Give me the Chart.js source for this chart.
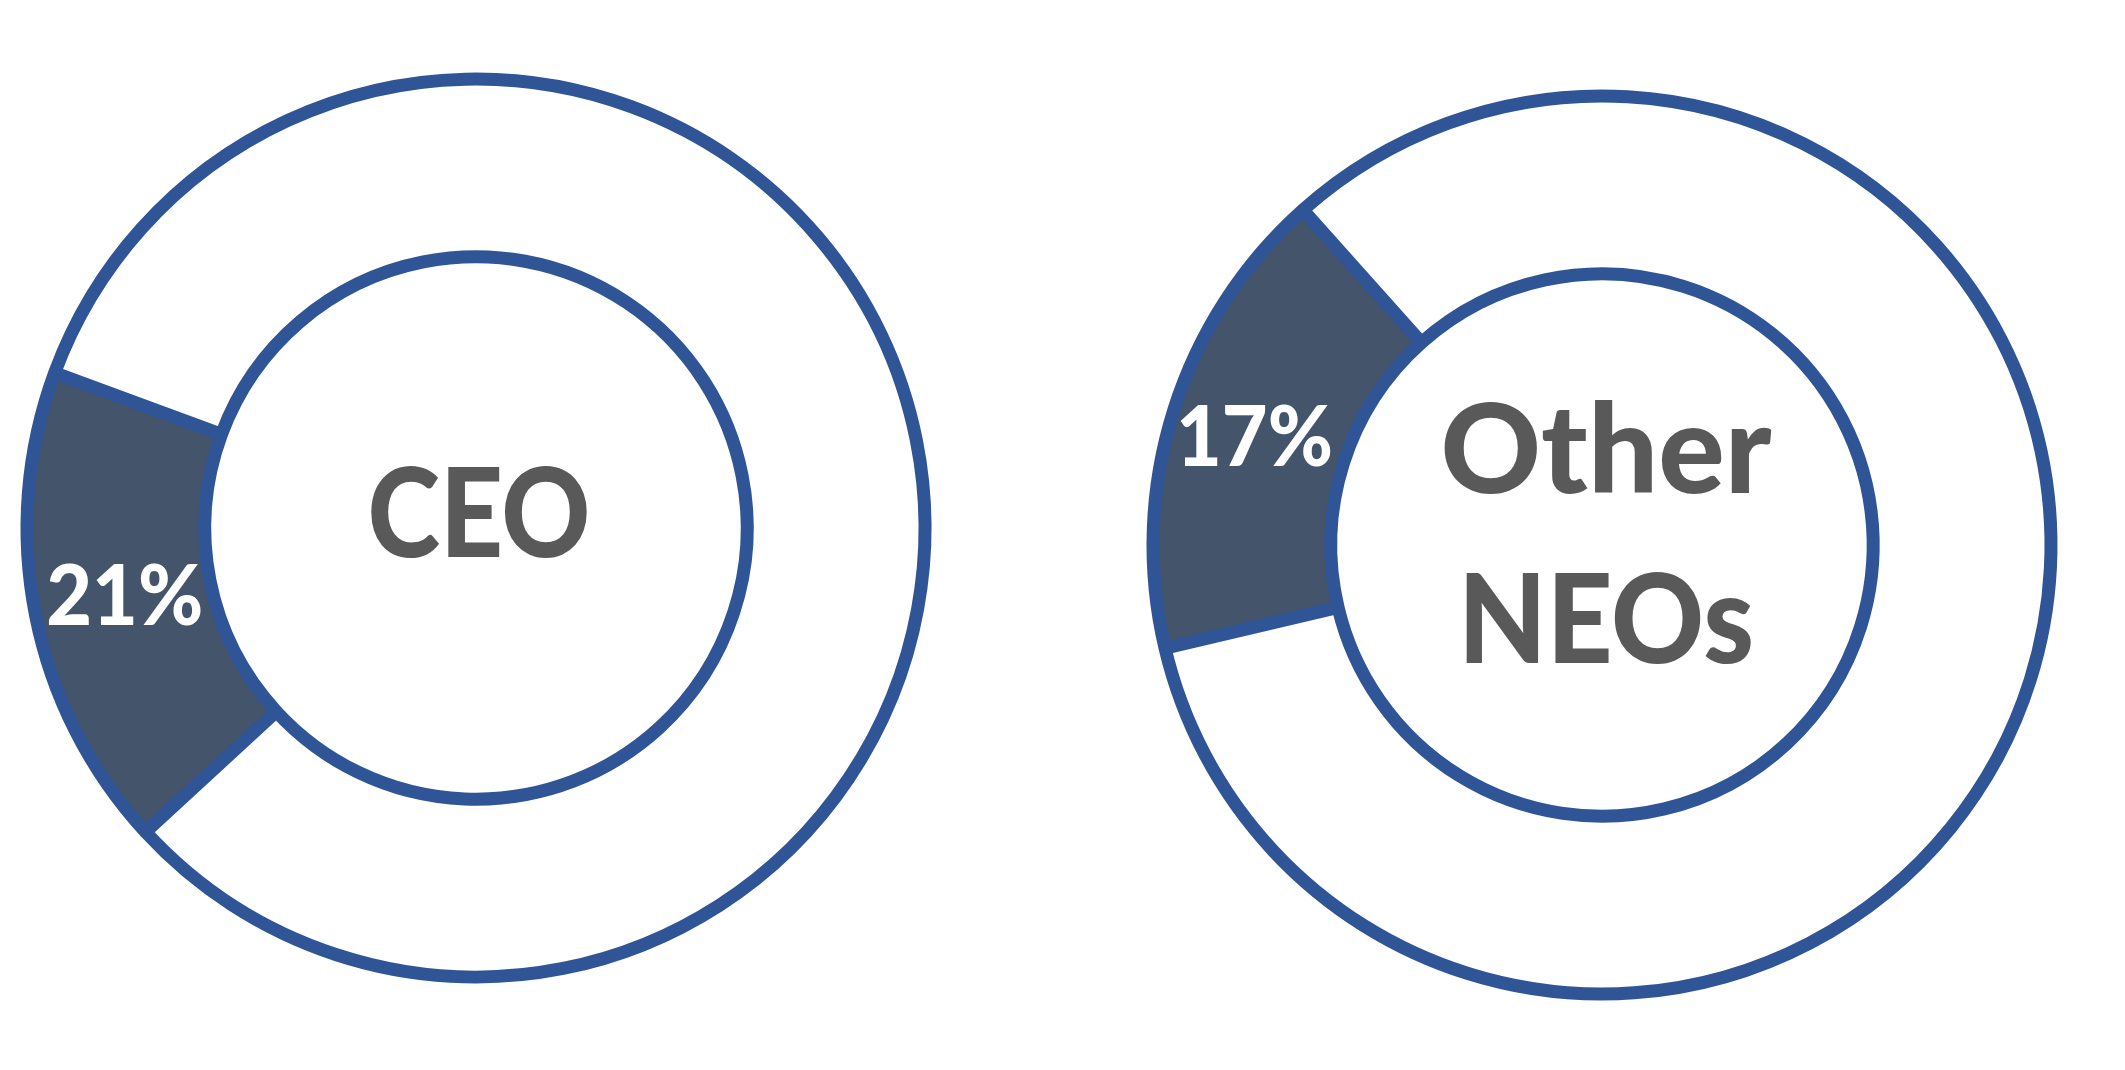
<!DOCTYPE html>
<html>
<head>
<meta charset="utf-8">
<script src="https://cdn.jsdelivr.net/npm/chart.js@4.4.1/dist/chart.umd.min.js"></script>
<style>
  html, body { margin: 0; padding: 0; background: #ffffff; overflow: hidden; }
  .box { position: absolute; top: 0; height: 1070px; }
  #b1 { left: 0; width: 952px; }
  #b2 { left: 1122px; width: 960px; }
</style>
</head>
<body>
<div class="box" id="b1"><canvas id="c1"></canvas></div>
<div class="box" id="b2"><canvas id="c2"></canvas></div>
<script>
// ---- data ----
const sliceCategories = ["Highlighted", "Remainder"];
const ceoShares = [17.45, 82.55];        // slice sizes as drawn in the picture
const neoShares = [17.1, 82.9];
const ceoValueLabel = "21%";
const neoValueLabel = "17%";
const ceoCenterLines = ["CEO"];
const neoCenterLines = ["Other", "NEOs"];
const ceoStartAngle = 227.4;
const neoStartAngle = 256.7;

// ---- styles ----
const DARK = "#44546A";
const BORDER = "#2F5597";
const TEXT_GRAY = "#595959";
const FONT = "Lato, 'Open Sans', sans-serif";

const labelPlugin = {
  id: "labels",
  afterDatasetsDraw(chart, args, opts) {
    const ctx = chart.ctx;
    const meta = chart.getDatasetMeta(0);
    const arc = meta.data[0];
    const pos = arc.tooltipPosition();
    ctx.save();
    ctx.fillStyle = "#ffffff";
    ctx.font = "900 " + opts.valueSize + "px " + FONT;
    ctx.textAlign = "center";
    ctx.textBaseline = "middle";
    ctx.fillText(opts.valueLabel, pos.x + (opts.vdx || 0), pos.y + (opts.vdy || 0), opts.valueMaxW);
    // center text
    ctx.fillStyle = TEXT_GRAY;
    ctx.font = "900 " + opts.centerSize + "px " + FONT;
    ctx.textBaseline = "alphabetic";
    const cx = arc.x, cy = arc.y;
    opts.centerLines.forEach((t, i) => {
      ctx.fillText(t, cx + opts.cdx, cy + opts.baseOffsets[i], opts.centerMaxW[i]);
    });
    ctx.restore();
  }
};

function makeChart(id, shares, rotation, padding, pluginOpts) {
  return new Chart(document.getElementById(id), {
    type: "doughnut",
    data: {
      labels: sliceCategories,
      datasets: [{
        data: shares,
        backgroundColor: [DARK, "#ffffff"],
        borderColor: BORDER,
        borderWidth: 13,
        radius: 449
      }]
    },
    options: {
      responsive: true,
      maintainAspectRatio: false,
      devicePixelRatio: 1,
      animation: false,
      rotation: rotation,
      cutout: "60.4%",
      layout: { padding: padding },
      plugins: {
        legend: { display: false },
        tooltip: { enabled: false },
        labels: pluginOpts
      }
    },
    plugins: [labelPlugin]
  });
}

makeChart("c1", ceoShares, ceoStartAngle, { top: 0, bottom: 14, left: 0, right: 0 }, {
  valueLabel: ceoValueLabel, valueSize: 84, vdx: 2, vdy: 0, valueMaxW: 157,
  centerLines: ceoCenterLines, centerSize: 124, cdx: 3, baseOffsets: [29], centerMaxW: [223]
});
makeChart("c2", neoShares, neoStartAngle, { top: 20, bottom: 0, left: 0, right: 0 }, {
  valueLabel: neoValueLabel, valueSize: 84, vdx: -4, vdy: 2, valueMaxW: 157,
  centerLines: neoCenterLines, centerSize: 124, cdx: 4, baseOffsets: [-52, 118], centerMaxW: [334, 296]
});
</script>
</body>
</html>
